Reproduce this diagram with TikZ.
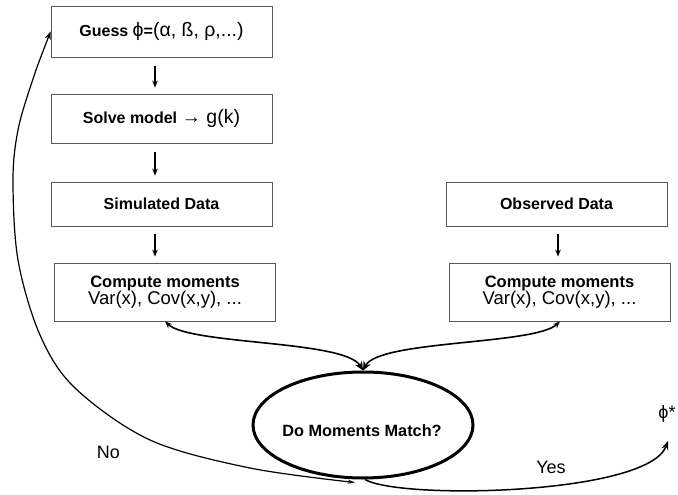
\documentclass[tikz,border=0pt]{standalone}
\usepackage{fontspec}
\setmainfont{Liberation Sans}
\usetikzlibrary{arrows.meta,shapes.geometric}
\tikzset{
  box/.style={draw=black!65, line width=0.8pt, minimum width=221pt, inner sep=0pt, align=center},
  lbl/.style={font=\fontsize{16}{19}\selectfont\bfseries},
  arr/.style={-{Stealth[length=7pt,width=5.5pt]}, line width=1.1pt},
  darr/.style={{Stealth[length=7pt,width=5.5pt]}-{Stealth[length=9pt,width=8pt]}, line width=1.6pt},
  narr/.style={{Stealth[length=8pt,width=6pt]}-{Stealth[length=7pt,width=4pt]}, line width=1.2pt},
  yarr/.style={-{Stealth[length=9pt,width=7pt]}, line width=1.5pt},
}
\newcommand{\reg}[1]{{\fontsize{19.5}{22}\selectfont\mdseries #1}}
\begin{document}
\begin{tikzpicture}[x=1pt,y=-1pt]
\useasboundingbox (0,0) rectangle (678,495);
% left column
\node[box, lbl, minimum height=51pt] (g) at (161.5,31.5) {Guess \reg{ϕ}=\reg{(α, ß, ρ,...)}};
\node[box, lbl, minimum height=49pt] (s) at (161.5,118.5) {Solve model \reg{→ g(k)}};
\node[box, lbl, minimum height=44pt] (sd) at (161.5,204) {Simulated Data};
\node[box, minimum width=221pt, minimum height=58pt] (cl) at (165,292)
  {{\fontsize{16.5}{19}\selectfont\bfseries Compute moments}\\[-1pt]{\fontsize{18.5}{21}\selectfont Var(x), Cov(x,y), ...}};
% right column
\node[box, lbl, minimum height=44pt] (od) at (556.5,204) {Observed Data};
\node[box, minimum width=221pt, minimum height=58pt] (cr) at (559.5,292)
  {{\fontsize{16.5}{19}\selectfont\bfseries Compute moments}\\[-1pt]{\fontsize{18.5}{21}\selectfont Var(x), Cov(x,y), ...}};
% decision
\node[ellipse, draw, line width=3pt, minimum width=220pt, minimum height=106pt, inner sep=0pt] (e) at (363,425) {};
\node[font=\fontsize{16.3}{19}\selectfont\bfseries] (et) at (362,431) {Do Moments Match?};
% short arrows
\draw[arr, shorten <=9pt, shorten >=6pt] ([xshift=-6.5pt]g.south) -- ([xshift=-6.5pt]s.north);
\draw[arr, shorten <=9pt, shorten >=6pt] ([xshift=-6.5pt]s.south) -- ([xshift=-6.5pt]sd.north);
\draw[arr, shorten <=8pt, shorten >=6pt] ([xshift=-6.5pt]sd.south) -- ([xshift=-10pt]cl.north);
\draw[arr, shorten <=8pt, shorten >=6pt] ([xshift=1.5pt]od.south) -- ([xshift=-1.5pt]cr.north);
% curves into the decision
\draw[darr] (cl.south) .. controls (190,345) and (345,340) .. (e.north);
\draw[darr] ([xshift=0.5pt]cr.south) .. controls (535,345) and (379,340) .. (e.north);
% No loop
\draw[narr] plot[smooth, tension=0.55] coordinates {(g.west) (32,82) (18,130) (13,180) (18,260) (40,335) (75,388) (150,440) (250,468) ([xshift=-8pt,yshift=-3pt]e.south)};
% Yes exit
\coordinate (phitip) at (668,441);
\draw[yarr] ([xshift=2pt]e.south) .. controls (400,500) and (648,495) .. (phitip);
% labels
\node[font=\fontsize{18}{21}\selectfont] (no) at (108.5,452) {No};
\node[font=\fontsize{18}{21}\selectfont] (yes) at (551,467) {Yes};
\node[font=\fontsize{18}{21}\selectfont] (phi) at (667,414) {ϕ*};
\end{tikzpicture}
\end{document}
